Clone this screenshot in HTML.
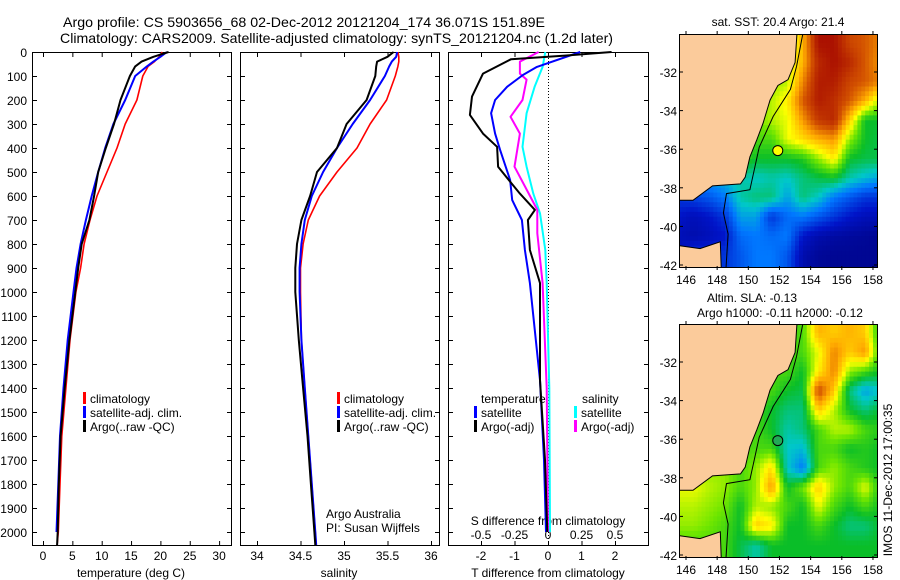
<!DOCTYPE html>
<html><head><meta charset="utf-8"><style>
html,body{margin:0;padding:0;background:#fff;}
svg{display:block;font-family:"Liberation Sans",sans-serif;}
</style></head><body>
<svg id="c" width="900" height="580" viewBox="0 0 900 580" xmlns="http://www.w3.org/2000/svg">
<rect width="900" height="580" fill="#fff"/>
<text x="63" y="27" font-size="14" textLength="482" lengthAdjust="spacingAndGlyphs">Argo profile: CS 5903656_68 02-Dec-2012 20121204_174 36.071S 151.89E</text>
<text x="60" y="43" font-size="14" textLength="553" lengthAdjust="spacingAndGlyphs">Climatology: CARS2009. Satellite-adjusted climatology: synTS_20121204.nc (1.2d later)</text>
<g id="g"></g>
</svg>
<script>
// ---------- data ----------
const depthLevels=[0,20,40,60,100,200,300,400,500,600,700,800,900,1000,1200,1400,1600,1800,2000,2054];
const tempClim=[20.3,19.8,19,17.9,17,16,14,12.6,10.9,9.2,8,7,6.4,5.6,4.6,3.9,3.2,2.9,2.6,2.4];
const tempSat=[21.1,20,18.8,17.7,15.7,14,12,10.6,9.4,8.3,7.3,6.4,5.7,5.2,4.2,3.5,2.9,2.6,2.3,2.3];
const tempArgo=[21.4,18.8,16.8,15.7,14.8,13.2,12.1,10.7,9.4,8.7,7.9,6.6,6,5.5,4.5,3.7,3.0,2.7,2.5,2.4];
const salClim=[35.62,35.63,35.63,35.62,35.59,35.49,35.3,35.15,34.92,34.72,34.59,34.53,34.5,34.5,34.51,34.55,34.59,34.63,34.67,34.68];
const salSat=[35.61,35.6,35.55,35.52,35.47,35.3,35.1,34.92,34.76,34.63,34.55,34.51,34.49,34.49,34.51,34.55,34.59,34.63,34.67,34.68];
const salArgo=[35.57,35.5,35.38,35.37,35.36,35.26,35.03,34.92,34.69,34.61,34.51,34.46,34.44,34.44,34.48,34.53,34.58,34.62,34.66,34.67];
const dTArgoDepth=[0,15,30,90,186,262,340,395,478,540,590,658,700,825,963,1367,1500,1700,2000];
const dTArgo=[1.9,0.5,-1.1,-1.94,-2.27,-2.33,-1.94,-1.52,-1.49,-1.13,-0.84,-0.39,-0.6,-0.54,-0.24,-0.24,-0.18,-0.09,-0.02];
const dTSatDepth=[0,62,96,145,200,255,340,408,533,617,700,825,963,1367,1700,2000];
const dTSat=[0.96,-0.33,-0.75,-1.22,-1.58,-1.7,-1.58,-1.43,-1.13,-1.07,-0.78,-0.69,-0.54,-0.24,-0.12,-0.06];
const dSSatDepth=[0,62,145,255,395,478,590,672,825,963,1400,2000];
const dSSat=[-0.02,-0.04,-0.1,-0.16,-0.19,-0.16,-0.11,-0.06,-0.02,-0.01,0.01,0.015];
const dSArgoDepth=[0,40,90,115,200,270,340,478,562,658,755,963,1400,2000];
const dSArgo=[-0.07,-0.21,-0.21,-0.16,-0.19,-0.28,-0.21,-0.25,-0.17,-0.08,-0.08,-0.04,-0.01,0];
const depthTicks=[0,100,200,300,400,500,600,700,800,900,1000,1100,1200,1300,1400,1500,1600,1700,1800,1900,2000];
const tempTicks=[0,5,10,15,20,25,30];
const salTicks=[34,34.5,35,35.5,36];
const dTTicks=[-2,-1,0,1,2];
const dSTicks=[-0.5,-0.25,0,0.25,0.5];
const dSTickLabels=["-0.5","-0.25","0","0.25","0.5"];
const latTicks=[-32,-34,-36,-38,-40,-42];
const lonTicks=[146,148,150,152,154,156,158];
// grid cell centres: lon 145.5..158.5, lat -30.5..-42.5
const sstGrid=[
[.6,.6,.6,.6,.6,.6,.6,.6,.75,.97,.97,.88,.85,.8],
[.6,.6,.6,.6,.6,.6,.6,.62,.75,.93,.97,.93,.85,.78],
[.6,.6,.6,.6,.6,.6,.6,.62,.8,.95,.95,.88,.85,.8],
[.6,.6,.6,.6,.6,.6,.62,.68,.85,.95,.92,.85,.75,.6],
[.6,.6,.6,.6,.6,.58,.62,.65,.78,.9,.93,.72,.5,.5],
[.6,.6,.6,.6,.6,.55,.55,.65,.7,.75,.78,.6,.5,.48],
[.55,.55,.55,.55,.55,.5,.5,.5,.52,.6,.68,.5,.48,.48],
[.35,.35,.35,.38,.42,.4,.42,.4,.45,.48,.5,.42,.38,.35],
[.2,.22,.25,.3,.42,.45,.45,.35,.45,.4,.3,.25,.2,.2],
[.15,.12,.15,.2,.35,.35,.2,.28,.3,.25,.2,.15,.12,.12],
[.12,.1,.12,.15,.28,.3,.28,.3,.15,.1,.08,.07,.06,.05],
[.12,.2,.2,.2,.25,.3,.3,.25,.1,.06,.05,.05,.05,.05],
[.12,.2,.2,.2,.25,.3,.3,.25,.1,.06,.05,.05,.05,.05]];
const slaGrid=[
[.55,.55,.55,.55,.55,.55,.55,.55,.55,.75,.72,.75,.72,.48],
[.55,.55,.55,.55,.55,.55,.55,.55,.55,.65,.8,.72,.78,.5],
[.55,.55,.55,.55,.55,.55,.55,.55,.5,.68,.8,.6,.55,.5],
[.55,.55,.55,.55,.55,.55,.55,.5,.48,.88,.72,.45,.35,.4],
[.55,.55,.55,.55,.55,.55,.5,.45,.45,.72,.62,.5,.45,.5],
[.55,.55,.55,.55,.55,.55,.5,.42,.45,.55,.62,.62,.55,.52],
[.55,.55,.55,.55,.55,.55,.55,.4,.38,.55,.55,.5,.52,.5],
[.6,.6,.6,.6,.55,.6,.7,.4,.3,.55,.6,.55,.52,.5],
[.65,.65,.62,.6,.55,.6,.78,.5,.58,.72,.6,.55,.65,.5],
[.62,.62,.6,.58,.5,.62,.6,.55,.5,.65,.55,.5,.55,.5],
[.6,.6,.58,.55,.5,.72,.68,.5,.5,.55,.5,.45,.45,.5],
[.55,.55,.55,.55,.48,.42,.5,.5,.5,.5,.5,.5,.5,.5],
[.55,.55,.55,.55,.48,.42,.5,.5,.5,.5,.5,.5,.5,.5]];
const coastLon=[144,153.2,153.0,152.55,151.9,151.4,150.95,150.55,150.1,149.8,149.5,147.7,146.45,145.6,144];
const coastLat=[-29,-29,-31.5,-32.4,-32.7,-33.45,-34.65,-35.5,-36.4,-37.45,-37.8,-37.9,-38.65,-38.65,-38.65];
const tasLon=[144,145.6,146.9,148.2,148.3,144];
const tasLat=[-41,-41,-41.15,-40.8,-43,-43];
const isoLon=[153.6,153.5,153.1,152.7,151.6,150.7,150.1,148.6,148.4,148.7,148.5];
const isoLat=[-29,-30,-31.7,-32.9,-34.3,-35.9,-38.1,-38.3,-39.3,-40.4,-43];
const argoLon=151.89, argoLat=-36.071;

// ---------- helpers ----------
const NS="http://www.w3.org/2000/svg";
const G=document.getElementById('g');
function mk(tag,attrs,parent){const e=document.createElementNS(NS,tag);for(const k in attrs)e.setAttribute(k,attrs[k]);(parent||G).appendChild(e);return e;}
function txt(x,y,s,size,anchor,parent){const e=mk('text',{x:x,y:y,'font-size':size||12,'text-anchor':anchor||'start'},parent);e.textContent=s;return e;}
const yD=d=>52+d*0.24;
function line(xs,ys,fx,color,w,name){
  const pts=xs.map((v,i)=>fx(v).toFixed(1)+','+yD(ys[i]).toFixed(1)).join(' ');
  const p=mk('polyline',{points:pts,fill:'none',stroke:color,'stroke-width':w,'stroke-linejoin':'round'});
  
  
}
function frame(x0,x1,name){
  const r=mk('rect',{x:x0+.5,y:52.5,width:x1-x0,height:493,fill:'none',stroke:'#000','stroke-width':1});
  
  
  depthTicks.forEach(d=>{const y=yD(d)+.5;mk('line',{x1:x0,x2:x0+5,y1:y,y2:y,stroke:'#000'});mk('line',{x1:x1-4,x2:x1+1,y1:y,y2:y,stroke:'#000'});});
}
function xticks(vals,fx){vals.forEach(v=>{const x=fx(v)+.5;mk('line',{x1:x,x2:x,y1:52,y2:57,stroke:'#000'});mk('line',{x1:x,x2:x,y1:541,y2:546,stroke:'#000'});});}
function legendRow(x,y,color,label,name){
  const b=mk('rect',{x:x,y:y-11,width:3,height:12,fill:color});
  
  
  const t=txt(x+7,y,label,12);
  
  
}

// ---------- panel 1: temperature ----------
const fT=t=>43+t*5.87;
frame(32,231,'temperature-panel');
xticks(tempTicks,fT);
depthTicks.forEach(d=>{const t=txt(27,yD(d)+5,String(d),12,'end');});
tempTicks.forEach(v=>{const t=txt(fT(v),560,String(v),12,'middle');});
line(tempClim,depthLevels,fT,'#ff0000',1.6,'temperature-climatology-line');
line(tempSat,depthLevels.slice(0,19),fT,'#0000ff',2,'temperature-satellite-line');
line(tempArgo,depthLevels,fT,'#000',2,'temperature-argo-line');
txt(131,577,'temperature (deg C)',12,'middle');
legendRow(83,403,'#ff0000','climatology','legend-climatology');
legendRow(83,417,'#0000ff','satellite-adj. clim.','legend-satellite-adj');
legendRow(83,431,'#000','Argo(..raw -QC)','legend-argo');

// ---------- panel 2: salinity ----------
const fS=s=>257+(s-34)*87;
frame(240,439,'salinity-panel');
xticks(salTicks,fS);
salTicks.forEach(v=>{const t=txt(fS(v),560,String(v),12,'middle');});
line(salClim,depthLevels,fS,'#ff0000',1.6,'salinity-climatology-line');
line(salSat,depthLevels,fS,'#0000ff',2,'salinity-satellite-line');
line(salArgo,depthLevels,fS,'#000',2,'salinity-argo-line');
txt(339,577,'salinity',12,'middle');
legendRow(337,403,'#ff0000','climatology','legend-climatology-2');
legendRow(337,417,'#0000ff','satellite-adj. clim.','legend-satellite-adj-2');
legendRow(337,431,'#000','Argo(..raw -QC)','legend-argo-2');
txt(326,518,'Argo Australia',12);
txt(326,532,'PI: Susan Wijffels',12);

// ---------- panel 3: differences ----------
const fdT=v=>548+v*33.5;
const fdS=v=>548+v*134;
frame(448,648,'difference-panel');
xticks(dTTicks,fdT);
mk('line',{x1:548.5,x2:548.5,y1:52,y2:545,stroke:'#000','stroke-dasharray':'1,2'});
dTTicks.forEach(v=>{const t=txt(fdT(v),560,String(v),12,'middle');});
dSTicks.forEach((v,i)=>{const t=txt(fdS(v),539,dSTickLabels[i],12,'middle');});
txt(548,525,'S difference from climatology',12,'middle');
txt(548,577,'T difference from climatology',12,'middle');
line(dSSat,dSSatDepth,fdS,'#00ffff',2,'salinity-satellite-diff-line');
line(dSArgo,dSArgoDepth,fdS,'#ff00ff',2,'salinity-argo-diff-line');
line(dTSat,dTSatDepth,fdT,'#0000ff',2,'temperature-satellite-diff-line');
line(dTArgo,dTArgoDepth,fdT,'#000',2,'temperature-argo-diff-line');
txt(481,403,'temperature',12);
legendRow(474,417,'#0000ff','satellite','legend-temp-satellite');
legendRow(474,431,'#000','Argo(-adj)','legend-temp-argo');
txt(582,403,'salinity',12);
legendRow(574,417,'#00ffff','satellite','legend-sal-satellite');
legendRow(574,431,'#ff00ff','Argo(-adj)','legend-sal-argo');

// ---------- maps ----------
const cmapStops=[[0,[0,0,120]],[0.15,[0,20,200]],[0.3,[0,120,255]],[0.4,[0,200,200]],[0.5,[10,190,40]],[0.58,[110,230,0]],[0.66,[255,255,0]],[0.76,[255,170,0]],[0.86,[210,80,0]],[1,[160,0,0]]];
function cmap(v){
  v=Math.max(0,Math.min(1,v));
  for(let k=1;k<cmapStops.length;k++){
    if(v<=cmapStops[k][0]){
      const [a,ca]=cmapStops[k-1],[b,cb]=cmapStops[k];const t=(v-a)/(b-a);
      return 'rgb('+ca.map((c,i)=>Math.round(c+(cb[i]-c)*t)).join(',')+')';
    }
  }
  return 'rgb(160,0,0)';
}
function sample(grid,lon,lat){
  let fi=lon-145.5, fj=-30.5-lat;
  fi=Math.max(0,Math.min(grid[0].length-1,fi)); fj=Math.max(0,Math.min(grid.length-1,fj));
  const i0=Math.floor(fi), j0=Math.floor(fj), i1=Math.min(i0+1,grid[0].length-1), j1=Math.min(j0+1,grid.length-1);
  const a=fi-i0, b=fj-j0;
  return grid[j0][i0]*(1-a)*(1-b)+grid[j0][i1]*a*(1-b)+grid[j1][i0]*(1-a)*b+grid[j1][i1]*a*b;
}
function drawMap(top,bottom,yLat32,grid,circleFill,name){
  const x0=679,x1=877,pxLat=19.3,pxLon=15.58;
  const fx=lon=>686+(lon-146)*pxLon;
  const fy=lat=>yLat32+(-32-lat)*pxLat;
  const grp=mk('g',{});
  
  
  const cid='clip'+name;
  const cp=mk('clipPath',{id:cid},grp);mk('rect',{x:x0,y:top,width:x1-x0,height:bottom-top},cp);
  const inner=mk('g',{'clip-path':'url(#'+cid+')'},grp);
  const step=0.25;
  for(let lat=-29.75;lat>-43;lat-=step){
    for(let lon=144.75;lon<159;lon+=step){
      const v=sample(grid,lon+step/2,lat-step/2);
      const c=mk('rect',{x:fx(lon).toFixed(1),y:fy(lat).toFixed(1),width:(pxLon*step+0.6).toFixed(1),height:(pxLat*step+0.6).toFixed(1),fill:cmap(v)},inner);
      
      
    }
  }
  const poly=(lons,lats)=>lons.map((l,i)=>fx(l).toFixed(1)+','+fy(lats[i]).toFixed(1)).join(' ');
  const land=mk('polygon',{points:poly(coastLon,coastLat),fill:'#fbcb9b',stroke:'#000','stroke-width':1},inner);
  
  const tas=mk('polygon',{points:poly(tasLon,tasLat),fill:'#fbcb9b',stroke:'#000','stroke-width':1},inner);
  
  const iso=mk('polyline',{points:poly(isoLon,isoLat),fill:'none',stroke:'#000','stroke-width':1},inner);
  
  const ci=mk('circle',{cx:fx(argoLon),cy:fy(argoLat),r:5,fill:circleFill,stroke:'#000'},grp);
  
  
  mk('rect',{x:x0+.5,y:top+.5,width:x1-x0,height:bottom-top,fill:'none',stroke:'#000'},grp);
  latTicks.forEach(l=>{const y=fy(l);mk('line',{x1:x0,x2:x0+4,y1:y,y2:y,stroke:'#000'},grp);mk('line',{x1:x1-3,x2:x1+1,y1:y,y2:y,stroke:'#000'},grp);
    const t=txt(677,y+5,String(l),12,'end',grp);});
  lonTicks.forEach(l=>{const x=fx(l);mk('line',{x1:x,x2:x,y1:top-3,y2:top+1,stroke:'#000'},grp);mk('line',{x1:x,x2:x,y1:bottom-1,y2:bottom+3,stroke:'#000'},grp);
    const t=txt(x,bottom+17,String(l),12,'middle',grp);});
  return grp;
}
drawMap(34,267,72,sstGrid,'#ffff00','sst-map');
txt(778,26,'sat. SST: 20.4  Argo: 21.4',12,'middle');
drawMap(324,557,362,slaGrid,'#22aa55','sla-map');
txt(752,302,'Altim. SLA: -0.13',12,'middle');
txt(780,317,'Argo h1000: -0.11 h2000: -0.12',12,'middle');
const vt=txt(0,0,'IMOS 11-Dec-2012 17:00:35',12,'middle');
vt.setAttribute('transform','translate(892,480) rotate(-90)');


</script>
</body></html>
